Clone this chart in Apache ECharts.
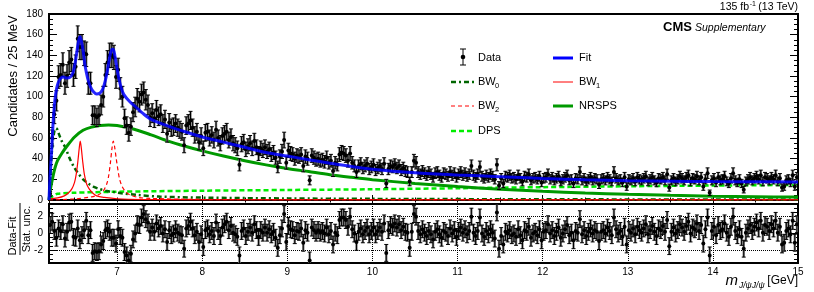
<!DOCTYPE html>
<html><head><meta charset="utf-8">
<script src="https://cdn.jsdelivr.net/npm/echarts@6/dist/echarts.min.js"></script>
<style>html,body{margin:0;padding:0;background:#fff}#c{width:814px;height:292px}</style>
</head><body><div id="c"></div>
<script>
const massStart = 6.2, binWidth = 0.025;
const counts = [
6,60,83,96,119,121,131,113,120,133,136,121,129,156,148,148,142,141,113,113,82,82,80,82,92,100,121,133,140,140,138,119,126,108,100,79,72,65,71,85,90,98,95,102,104,97,92,80,
84,79,87,81,83,74,78,64,75,70,
71,74,70,68,66,53,72,74,77,70,
63,66,56,62,50,65,66,60,63,58,
68,60,55,62,64,66,58,61,55,53,
50,34,54,56,49,52,55,50,57,51,
45,50,48,51,47,49,44,46,41,32,
42,47,58,36,48,45,44,40,43,42,
44,33,42,40,19,43,41,39,40,38,
39,37,41,36,38,28,36,34,44,46,
45,43,38,45,36,33,27,33,35,31,
33,35,30,32,34,29,31,33,30,35,
16,30,33,32,34,31,33,29,31,28,
27,18,27,38,36,27,25,28,26,24,
27,25,22,26,27,24,22,26,25,23,
27,24,26,22,25,27,24,26,23,25,
33,24,22,25,32,23,21,24,22,25,
23,20,34,14,21,16,23,22,24,21,
22,20,24,21,18,23,22,25,19,21,
22,20,23,17,21,22,25,20,22,19,
21,23,18,20,22,24,19,20,16,21,
20,27,19,21,18,20,22,19,21,20,
15,20,21,19,22,20,18,27,21,19,
20,17,22,13,20,19,21,18,22,20,
19,21,23,18,20,22,19,17,21,20,
22,19,25,12,19,21,18,20,23,21,
19,22,24,18,21,20,23,19,22,13,
20,26,7,19,21,17,22,19,20,23,
18,16,21,26,19,17,20,16,10,18,
20,22,19,21,23,20,24,18,22,21,
19,22,20,24,18,21,12,13,19,20,
17,24,13,22];
const pulls = [
1.0,1.4,0.3,-0.5,0.6,0.3,1.1,-0.6,0.2,1.3,1.4,-0.4,-0.5,0.6,-0.8,-0.2,0.4,1.5,-0.2,0.4,-2.3,-2.1,-2.2,-2.1,-1.3,-0.9,0.4,0.6,0.2,-0.5,-0.5,-1.2,0.5,-0.3,-0.5,-2.2,-2.6,-3.2,-2.4,-0.7,0,1.1,1.0,1.9,2.3,1.7,1.3,0.2,
0.7,0.2,1.2,0.6,0.9,0,0.5,-1.0,0.4,-0.2,
0,0.5,0.1,-0.1,-0.2,-1.8,0.6,0.9,1.4,0.6,
-0.2,0.2,-1.0,-0.1,-1.6,0.4,0.6,-0.1,0.3,-0.3,
1.3,0.3,-0.3,0.7,1.1,1.4,0.4,0.9,0.1,-0.1,
-0.4,-2.6,0.3,0.6,-0.3,0.2,0.7,0.1,1.1,0.4,
-0.4,0.4,0.1,0.7,0.1,0.5,-0.1,0.2,-0.5,-1.7,
-0.2,0.6,2.3,-1.0,0.9,0.5,0.4,-0.2,0.3,0.2,
0.6,-1.1,0.4,0.1,-3.2,0.7,0.4,0.1,0.4,0.1,
0.3,0,0.7,-0.1,0.3,-1.3,0.1,-0.2,1.6,1.9,
1.9,1.6,0.8,2.0,0.5,0,-1.0,0.2,0.6,-0.1,
0.3,0.7,-0.1,0.3,0.7,-0.1,0.3,0.7,0.2,1.2,
-2.3,0.4,1.0,0.8,1.2,0.7,1.1,0.4,0.8,0.2,
0.1,-1.7,0.2,2.3,2.0,0.3,-0.1,0.5,0.1,-0.3,
0.3,-0.1,-0.7,0.2,0.5,-0.1,-0.5,0.3,0.1,-0.3,
0.6,0,0.4,-0.4,0.3,0.7,0.1,0.5,-0.1,0.3,
2.0,0.1,-0.3,0.3,1.9,0,-0.4,0.3,-0.1,0.5,
0.1,-0.6,2.5,-1.8,-0.3,-1.3,0.2,0,0.4,-0.2,
0,-0.4,0.5,-0.2,-0.8,0.4,0.2,0.8,-0.5,0,
0.2,-0.2,0.5,-0.8,0.2,0.4,1.1,0,0.4,-0.3,
0.2,0.7,-0.5,0,0.5,1.0,-0.2,0.1,-0.8,0.3,
0.1,1.7,-0.1,0.4,-0.3,0.2,0.6,0,0.4,0.2,
-0.9,0.2,0.4,0,0.7,0.3,-0.2,1.9,0.5,0,
0.3,-0.4,0.8,-1.3,0.4,0.1,0.6,-0.1,0.8,0.4,
0.1,0.6,1.1,-0.1,0.4,0.9,0.2,-0.3,0.6,0.4,
0.9,0.2,1.6,-1.5,0.2,0.7,0,0.4,1.1,0.7,
0.2,0.9,1.4,0,0.7,0.5,1.2,0.3,1.0,-1.2,
0.5,1.9,-2.6,0.3,0.8,-0.2,1.0,0.3,0.5,1.2,
0.1,-0.4,0.8,2.0,0.3,-0.2,0.5,-0.4,-1.8,0.1,
0.6,1.0,0.3,0.8,1.3,0.6,1.5,0.1,1.0,0.8,
0.3,1.1,0.6,1.5,0.1,0.8,-1.3,-1.1,0.3,0.6,
-0.1,1.5,-1.1,1.1];
const fitCurve = [[6.2,0],[6.212,22],[6.23,47],[6.25,77],[6.27,97],[6.29,108],[6.31,114],[6.34,118],[6.37,119],[6.41,118],[6.45,119],[6.48,123],[6.506,132],[6.53,145],[6.55,155],[6.565,158],[6.58,154],[6.6,145],[6.62,132],[6.64,123],[6.66,116],[6.69,109],[6.72,105],[6.76,102.5],[6.8,103.5],[6.83,107],[6.86,115],[6.89,127],[6.915,139],[6.94,146],[6.955,146],[6.975,139],[7.0,127],[7.02,118],[7.05,108],[7.08,102],[7.15,95],[7.22,90],[7.3,84],[7.4,78],[7.6,71.5],[7.8,66],[8.0,61],[8.25,56],[8.5,51],[8.75,46],[9.0,42.5],[9.25,39],[9.5,35.5],[9.75,32.5],[10.0,29.7],[10.5,26.3],[11,24.2],[11.5,22.6],[12,20.8],[12.5,19.6],[13,18.7],[13.5,18.2],[14,17.8],[14.5,17.6],[15,17.5]];
const nrspsCurve = [[6.2,0],[6.22,12],[6.25,24],[6.27,31],[6.3,38],[6.35,45],[6.41,52],[6.5,61],[6.6,67.5],[6.7,70.5],[6.8,72],[6.9,72.5],[7.0,72],[7.2,68.5],[7.4,63],[7.6,57],[7.8,52],[8.0,47.5],[8.25,42.5],[8.5,38],[8.75,34],[9.0,30.5],[9.25,27.5],[9.5,24.5],[9.75,22],[10.0,19.7],[10.5,16],[11,13],[11.5,10.5],[12,8.5],[12.5,6.8],[13,5.5],[13.5,4.5],[14,3.7],[14.5,3.2],[15,2.8]];
const dpsCurve = [[6.2,1],[6.25,4],[6.3,6],[6.5,7],[7,8],[8,9],[9,9.7],[10,10.4],[11,11.4],[12,12.4],[13,13.3],[14,14],[15,14.6]];
const bw0Curve = [[6.2,0],[6.21,12],[6.22,28],[6.235,48],[6.25,60],[6.265,67],[6.28,69.5],[6.3,68],[6.32,63],[6.35,57],[6.39,51],[6.45,39],[6.5,31],[6.55,25],[6.6,20],[6.66,16],[6.72,13],[6.78,11],[6.86,9],[6.94,8],[7.05,6.5],[7.25,4.8],[7.5,3.3],[8,2.3],[9,1.5],[10,1.1],[12,0.7],[15,0.4]];
const bw1Curve = [[6.2,1],[6.3,2],[6.38,4],[6.43,7],[6.47,11],[6.5,17],[6.52,25],[6.54,38],[6.555,50],[6.567,57],[6.58,50],[6.595,38],[6.615,25],[6.64,16],[6.67,11],[6.71,7],[6.76,4],[6.85,2.5],[7.0,1.2],[7.3,0.5],[8,0.2],[15,0.1]];
const bw2Curve = [[6.2,0],[6.5,1],[6.7,3],[6.78,5],[6.84,9],[6.88,16],[6.9,23],[6.92,35],[6.94,50],[6.955,57],[6.97,52],[6.99,40],[7.01,29],[7.03,20],[7.06,13],[7.1,8],[7.15,5],[7.25,2.5],[7.4,1.5],[8,0.5],[9,0.2],[15,0.1]];
const pullRefLines = [2, -2];

const FONT = "'Liberation Sans', Arial, Helvetica, sans-serif";
const binCenters = counts.map((_, i) => +(massStart + binWidth * (i + 0.5)).toFixed(4));
const mainData = counts.map((n, i) => [binCenters[i], n, Math.sqrt(n)]);
const pullData = pulls.map((p, i) => [binCenters[i], p, 1]);

function errRender(capHalf, boxHalf, radius) {
  return function (params, api) {
    const x = api.value(0), y = api.value(1), e = api.value(2);
    const c = api.coord([x, y]);
    const t = api.coord([x, y + e]);
    const b = api.coord([x, y - e]);
    const ls = { stroke: '#000', lineWidth: 1 };
    return { type: 'group', children: [
      { type: 'rect', shape: { x: c[0] - boxHalf, y: t[1], width: boxHalf * 2, height: b[1] - t[1] }, style: { fill: '#808080' }, z2: 0 },
      { type: 'line', shape: { x1: c[0], y1: t[1], x2: c[0], y2: b[1] }, style: ls, z2: 1 },
      { type: 'line', shape: { x1: c[0] - capHalf, y1: t[1], x2: c[0] + capHalf, y2: t[1] }, style: ls, z2: 1 },
      { type: 'line', shape: { x1: c[0] - capHalf, y1: b[1], x2: c[0] + capHalf, y2: b[1] }, style: ls, z2: 1 },
      { type: 'circle', shape: { cx: c[0], cy: c[1], r: radius }, style: { fill: '#000' }, z2: 2 }
    ]};
  };
}

const chart = echarts.init(document.getElementById('c'), null, { renderer: 'canvas' });
const tickLbl = { color: '#000', fontFamily: FONT, fontSize: 10 };
function xAx(grid, pos, labels, split, splitNumber, minorSplit, tickLen) {
  return {
    gridIndex: grid, type: 'value', min: massStart, max: 15, position: pos, splitNumber: splitNumber,
    axisLine: { show: false },
    axisTick: { show: true, inside: true, length: tickLen, lineStyle: { color: '#000', width: 1 } },
    minorTick: { show: true, splitNumber: minorSplit, length: tickLen / 2, lineStyle: { color: '#000', width: 1 } },
    axisLabel: Object.assign({ show: labels, showMinLabel: false, margin: 4 }, tickLbl),
    splitLine: { show: split, lineStyle: { type: 'dotted', color: '#000', width: 1 } }
  };
}
function yAx(grid, pos, labels, opts) {
  return Object.assign({
    gridIndex: grid, type: 'value', position: pos,
    axisLine: { show: false },
    axisTick: { show: true, inside: true, length: 8, lineStyle: { color: '#000', width: 1 } },
    minorTick: { show: true, splitNumber: 4, length: 4, lineStyle: { color: '#000', width: 1 } },
    axisLabel: Object.assign({ show: labels, margin: 6, showMinLabel: opts.showMin !== false, showMaxLabel: opts.showMax !== false }, tickLbl),
    splitLine: { show: false }
  }, opts.range);
}

const option = {
  animation: false,
  backgroundColor: '#fff',
  grid: [
    { left: 49, right: 16, top: 14, height: 186, show: true, borderColor: '#000', borderWidth: 2, backgroundColor: 'transparent' },
    { left: 49, right: 16, top: 204, height: 59, show: true, borderColor: '#000', borderWidth: 2, backgroundColor: 'transparent' }
  ],
  xAxis: [
    xAx(0, 'bottom', false, false, 5, 4, 5),
    xAx(0, 'top', false, false, 5, 4, 5),
    xAx(1, 'bottom', true, true, 9, 5, 5),
    xAx(1, 'top', false, false, 9, 5, 5)
  ],
  yAxis: [
    yAx(0, 'left', true, { range: { min: 0, max: 180, interval: 20 } }),
    yAx(0, 'right', false, { range: { min: 0, max: 180, interval: 20 } }),
    yAx(1, 'left', true, { range: { min: -3.5, max: 3.5, splitNumber: 3 }, showMin: false, showMax: false }),
    yAx(1, 'right', false, { range: { min: -3.5, max: 3.5, splitNumber: 3 }, showMin: false, showMax: false })
  ],
  series: [
    { type: 'line', name: 'DPS', xAxisIndex: 0, yAxisIndex: 0, data: dpsCurve, smooth: 0.3, showSymbol: false, silent: true, z: 2,
      lineStyle: { color: '#00ee00', width: 2.5, type: [5, 3] } },
    { type: 'line', name: 'BW0', xAxisIndex: 0, yAxisIndex: 0, data: bw0Curve, smooth: 0.3, showSymbol: false, silent: true, z: 2,
      lineStyle: { color: '#006600', width: 2.5, type: [5, 3, 2, 3] } },
    { type: 'line', name: 'BW1', xAxisIndex: 0, yAxisIndex: 0, data: bw1Curve, smooth: 0.3, showSymbol: false, silent: true, z: 3,
      lineStyle: { color: '#ff0000', width: 1.2 } },
    { type: 'line', name: 'BW2', xAxisIndex: 0, yAxisIndex: 0, data: bw2Curve, smooth: 0.3, showSymbol: false, silent: true, z: 3,
      lineStyle: { color: '#ff0000', width: 1.2, type: [4, 3] } },
    { type: 'line', name: 'NRSPS', xAxisIndex: 0, yAxisIndex: 0, data: nrspsCurve, smooth: 0.3, showSymbol: false, silent: true, z: 4,
      lineStyle: { color: '#009900', width: 3 } },
    { type: 'custom', name: 'Data', xAxisIndex: 0, yAxisIndex: 0, data: mainData, renderItem: errRender(2, 1.2, 2), clip: true, z: 5, silent: true },
    { type: 'line', name: 'Fit', xAxisIndex: 0, yAxisIndex: 0, data: fitCurve, smooth: 0.3, showSymbol: false, silent: true, z: 6,
      lineStyle: { color: '#0000ff', width: 3, opacity: 0.85 } },
    { type: 'line', name: 'ref', xAxisIndex: 2, yAxisIndex: 2, data: pullData.map(d => [d[0], d[1]]), showSymbol: false, silent: true,
      lineStyle: { opacity: 0 }, z: 1,
      markLine: { symbol: 'none', silent: true, label: { show: false }, lineStyle: { type: 'dotted', color: '#000', width: 1 },
        data: pullRefLines.map(v => ({ yAxis: v })) } },
    { type: 'custom', name: 'Pull', xAxisIndex: 2, yAxisIndex: 2, data: pullData, renderItem: errRender(2, 1.2, 2), clip: true, z: 6, silent: true }
  ],
  graphic: [
    { type: 'text', x: 13, y: 76, rotation: Math.PI / 2, style: { text: 'Candidates / 25 MeV', fill: '#000', font: '13px ' + FONT, textAlign: 'center', textVerticalAlign: 'middle' } },
    { type: 'text', x: 13, y: 236, rotation: Math.PI / 2, style: { text: 'Data-Fit', fill: '#000', font: '11px ' + FONT, textAlign: 'center', textVerticalAlign: 'middle' } },
    { type: 'line', shape: { x1: 20, y1: 203, x2: 20, y2: 255 }, style: { stroke: '#000', lineWidth: 1 } },
    { type: 'text', x: 27, y: 229, rotation: Math.PI / 2, style: { text: 'Stat. unc.', fill: '#000', font: '11px ' + FONT, textAlign: 'center', textVerticalAlign: 'middle' } },
    { type: 'text', x: 738, y: 281, style: { text: 'm', fill: '#000', font: 'italic 15px ' + FONT, textAlign: 'right', textVerticalAlign: 'middle' } },
    { type: 'text', x: 739, y: 286, style: { text: 'J/ψJ/ψ', fill: '#000', font: 'italic 8.5px ' + FONT, textAlign: 'left', textVerticalAlign: 'middle' } },
    { type: 'text', x: 798, y: 281, style: { text: '[GeV]', fill: '#000', font: '12px ' + FONT, textAlign: 'right', textVerticalAlign: 'middle' } },
    { type: 'text', x: 798, y: 7, style: { text: '(13 TeV)', fill: '#000', font: '10.5px ' + FONT, textAlign: 'right', textVerticalAlign: 'middle' } },
    { type: 'text', x: 756, y: 4, style: { text: '-1', fill: '#000', font: '7px ' + FONT, textAlign: 'right', textVerticalAlign: 'middle' } },
    { type: 'text', x: 749, y: 7, style: { text: '135 fb', fill: '#000', font: '10.5px ' + FONT, textAlign: 'right', textVerticalAlign: 'middle' } },
    { type: 'text', x: 663, y: 27, style: { text: 'CMS', fill: '#000', font: 'bold 13px ' + FONT, textAlign: 'left', textVerticalAlign: 'middle' } },
    { type: 'text', x: 695, y: 28, style: { text: 'Supplementary', fill: '#000', font: 'italic 10.5px ' + FONT, textAlign: 'left', textVerticalAlign: 'middle' } },
    { type: 'line', shape: { x1: 463, y1: 49, x2: 463, y2: 65 }, style: { stroke: '#000', lineWidth: 1 } },
    { type: 'line', shape: { x1: 460, y1: 49, x2: 466, y2: 49 }, style: { stroke: '#000', lineWidth: 1 } },
    { type: 'line', shape: { x1: 460, y1: 65, x2: 466, y2: 65 }, style: { stroke: '#000', lineWidth: 1 } },
    { type: 'circle', shape: { cx: 463, cy: 57, r: 2.3 }, style: { fill: '#000' } },
    { type: 'text', x: 478, y: 58, style: { text: 'Data', fill: '#000', font: '11px ' + FONT, textVerticalAlign: 'middle' } },
    { type: 'line', shape: { x1: 553, y1: 58, x2: 573, y2: 58 }, style: { stroke: '#0000ff', lineWidth: 3 } },
    { type: 'text', x: 579, y: 58, style: { text: 'Fit', fill: '#000', font: '11px ' + FONT, textVerticalAlign: 'middle' } },
    { type: 'line', shape: { x1: 451, y1: 82, x2: 474, y2: 82 }, style: { stroke: '#006600', lineWidth: 2.5, lineDash: [5, 3, 2, 3] } },
    { type: 'text', x: 478, y: 82, style: { text: 'BW', fill: '#000', font: '11px ' + FONT, textVerticalAlign: 'middle' } },
    { type: 'text', x: 495, y: 86, style: { text: '0', fill: '#000', font: '7.5px ' + FONT, textVerticalAlign: 'middle' } },
    { type: 'line', shape: { x1: 553, y1: 82, x2: 573, y2: 82 }, style: { stroke: '#ff0000', lineWidth: 1 } },
    { type: 'text', x: 579, y: 82, style: { text: 'BW', fill: '#000', font: '11px ' + FONT, textVerticalAlign: 'middle' } },
    { type: 'text', x: 596, y: 86, style: { text: '1', fill: '#000', font: '7.5px ' + FONT, textVerticalAlign: 'middle' } },
    { type: 'line', shape: { x1: 451, y1: 106, x2: 474, y2: 106 }, style: { stroke: '#ff0000', lineWidth: 1, lineDash: [4, 3] } },
    { type: 'text', x: 478, y: 106, style: { text: 'BW', fill: '#000', font: '11px ' + FONT, textVerticalAlign: 'middle' } },
    { type: 'text', x: 495, y: 110, style: { text: '2', fill: '#000', font: '7.5px ' + FONT, textVerticalAlign: 'middle' } },
    { type: 'line', shape: { x1: 553, y1: 106, x2: 573, y2: 106 }, style: { stroke: '#009900', lineWidth: 3 } },
    { type: 'text', x: 579, y: 106, style: { text: 'NRSPS', fill: '#000', font: '11px ' + FONT, textVerticalAlign: 'middle' } },
    { type: 'line', shape: { x1: 451, y1: 131, x2: 474, y2: 131 }, style: { stroke: '#00ee00', lineWidth: 2.5, lineDash: [5, 3] } },
    { type: 'text', x: 478, y: 131, style: { text: 'DPS', fill: '#000', font: '11px ' + FONT, textVerticalAlign: 'middle' } }
  ]
};
chart.setOption(option);
</script>
</body></html>
